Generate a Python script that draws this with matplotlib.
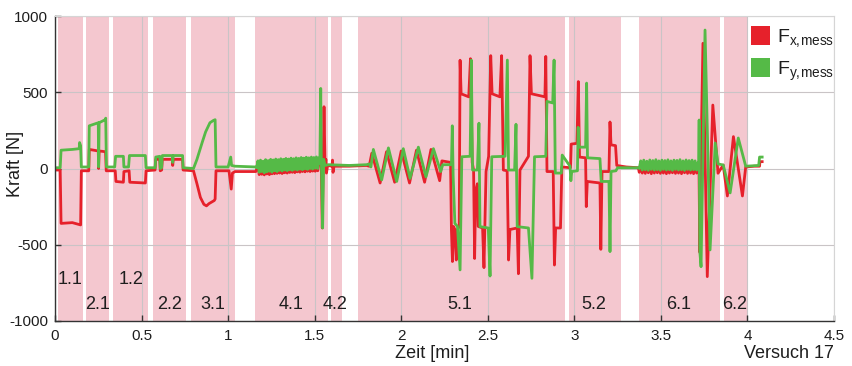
import numpy as np
import matplotlib
matplotlib.use('Agg')
import matplotlib.pyplot as plt
from matplotlib.patches import Patch

plt.rcParams['font.family'] = ['Liberation Sans', 'DejaVu Sans']
plt.rcParams['mathtext.fontset'] = 'custom'
plt.rcParams['mathtext.rm'] = 'Liberation Sans'
plt.rcParams['axes.unicode_minus'] = False

# ---------------- phase spans (min) ----------------
span_start = [0.017, 0.177, 0.335, 0.566, 0.786, 1.155, 1.593, 1.749, 2.969, 3.376, 3.865]
span_end = [0.162, 0.312, 0.537, 0.757, 1.040, 1.577, 1.656, 2.948, 3.268, 3.843, 4.005]
phase_labels = ['1.1', '2.1', '1.2', '2.2', '3.1', '4.1', '4.2', '5.1', '5.2', '6.1', '6.2']
label_t = [0.087, 0.243, 0.439, 0.664, 0.913, 1.363, 1.618, 2.340, 3.114, 3.605, 3.928]
label_y = [-725, -895, -725, -895, -895, -895, -895, -895, -895, -895, -895]

# ---------------- F_x,mess (red) ----------------
fx_t1 = [0, 0.03, 0.035, 0.10, 0.148, 0.152, 0.195, 0.198, 0.25, 0.252, 0.255, 0.292, 0.296, 0.348, 0.352,
         0.395, 0.398, 0.428, 0.432, 0.522, 0.526, 0.578, 0.582, 0.605, 0.608, 0.616, 0.62, 0.678, 0.68, 0.683,
         0.737, 0.74, 0.80, 0.82, 0.84, 0.86, 0.875, 0.89, 0.92, 0.925, 0.93, 1.005, 1.018, 1.025, 1.04, 1.16]
fx_v1 = [-10, -10, -360, -355, -370, -15, -15, 125, 115, 0, 115, 110, -15, -15, -85,
         -90, -20, -15, -90, -95, -15, -10, 60, 60, -15, -10, 60, 60, 20, 60,
         60, -10, -15, -100, -190, -235, -245, -230, -210, -200, -15, -15, -135, -30, -20, -20]
fx_osc41 = [-5, 30, -40, 35, -38, 30, -42, 38, -36, 32, -40, 36, -35, 38, -34, 35, -32, 40, -30, 38,
            -33, 42, -28, 40, -30, 44, -26, 40, -25, 45, -27, 42, -22, 46, -24, 44, -20, 48, -22, 45,
            -18, 50, -20, 46, -17, 50, -18, 48, -15, 45]
fx_t2 = [1.53, 1.538, 1.544, 1.549, 1.554, 1.56, 1.565, 1.568, 1.575, 1.60, 1.603, 1.606, 1.612, 1.70, 1.80]
fx_v2 = [25, 30, -390, 0, 405, 20, 60, -30, 20, 15, 55, -25, 15, 15, 20]
fx_t3 = [1.815, 1.83, 1.878, 1.915, 1.962, 2.0, 2.048, 2.088, 2.135, 2.172, 2.222, 2.235, 2.285]
fx_v3 = [15, 100, -95, 110, -90, 115, -95, 120, -90, 125, -80, 50, 40]
fx_t4 = [2.29, 2.296, 2.302, 2.31, 2.318, 2.325, 2.335, 2.34, 2.346, 2.39, 2.40, 2.41, 2.418, 2.424, 2.43,
         2.44, 2.445, 2.47, 2.478, 2.49, 2.505, 2.517, 2.525, 2.57, 2.58, 2.59, 2.612, 2.62, 2.628, 2.67,
         2.677, 2.686, 2.735, 2.744, 2.752, 2.83, 2.835, 2.842, 2.878, 2.885, 2.892, 2.92, 2.928]
fx_v4 = [-400, -610, -380, -400, -600, -400, -380, 710, 490, 470, 720, 40, -10, -590, -150,
         -100, -380, -390, -650, -20, 80, 740, 490, 470, 740, -10, -15, -600, -400, -390,
         -690, -10, 80, 740, 490, 470, 735, -20, -20, -633, -390, -390, 10]
fx_t5 = [2.978, 2.982, 3.015, 3.023, 3.03, 3.065, 3.069, 3.075, 3.148, 3.153, 3.16, 3.2, 3.206, 3.212,
         3.238, 3.245, 3.30, 3.37]
fx_v5 = [5, 160, 165, 570, 75, 70, -250, -85, -95, -530, -20, -20, 305, 155, 150, 20, 10, 5]
fx_osc61 = [-25, 30, -30, 28, -32, 32, -28, 30, -34, 28, -30, 32, -28, 34, -32, 30, -30, 28, -34, 32,
            -30, 30, -28, 34, -32, 30, -30, 28, -34, 32, -28, 30, -32, 34, -30, 28, -34, 30, -30, 25]
fx_t6 = [3.72, 3.725, 3.732, 3.743, 3.768, 3.80, 3.83, 3.86, 3.884, 3.919, 3.971, 3.99, 4.04, 4.07, 4.072, 4.085]
fx_v6 = [10, -550, 100, 821, -709, 416, -31, 23, -180, 209, -180, 10, 15, 15, 45, 45]

# ---------------- F_y,mess (green) ----------------
fy_t1 = [0, 0.03, 0.035, 0.10, 0.14, 0.142, 0.148, 0.152, 0.195, 0.198, 0.25, 0.252, 0.255, 0.29, 0.293,
         0.297, 0.345, 0.35, 0.395, 0.398, 0.425, 0.43, 0.522, 0.526, 0.578, 0.582, 0.605, 0.608, 0.616, 0.62,
         0.678, 0.68, 0.683, 0.737, 0.74, 0.80, 0.82, 0.85, 0.87, 0.895, 0.915, 0.925, 0.93, 1.0, 1.015,
         1.02, 1.04, 1.16]
fy_v1 = [5, 5, 120, 125, 130, 170, 150, 10, 10, 280, 300, 10, 300, 320, 330,
         10, 10, 80, 80, 10, 10, 85, 85, 5, 5, 75, 80, 0, 5, 85,
         85, 40, 85, 85, 5, 0, 60, 170, 240, 300, 315, 320, 10, 10, 75,
         20, 15, 10]
fy_osc41 = [5, 50, -25, 55, -20, 48, -28, 58, -22, 52, -18, 60, -24, 56, -15, 62, -20, 58, -12, 64,
            -16, 60, -10, 66, -14, 62, -8, 68, -12, 64, -6, 70, -10, 66, -4, 72, -8, 68, -2, 74,
            -6, 70, 0, 75, -4, 72, 2, 76, 0, 70]
fy_t2 = [1.53, 1.535, 1.538, 1.546, 1.552, 1.56, 1.58, 1.70, 1.80]
fy_v2 = [35, 525, 100, -390, 60, 20, 25, 20, 25]
fy_t3 = [1.815, 1.825, 1.839, 1.887, 1.926, 1.974, 2.012, 2.051, 2.099, 2.143, 2.186, 2.228, 2.24, 2.29]
fy_v3 = [30, 10, 125, -75, 135, -85, 130, -65, 140, -55, 130, -20, 25, 25]
fy_t4 = [2.295, 2.30, 2.31, 2.325, 2.34, 2.35, 2.398, 2.405, 2.412, 2.44, 2.449, 2.455, 2.503, 2.513, 2.523,
         2.60, 2.613, 2.62, 2.655, 2.663, 2.67, 2.735, 2.755, 2.77, 2.835, 2.842, 2.875, 2.883, 2.89, 2.925,
         2.93, 2.975]
fy_v4 = [280, -50, -360, -380, -665, 77, 80, 711, -10, -10, 297, -381, -390, -705, 77,
         80, 711, -10, -10, 290, -381, -390, -720, 77, 80, 440, 430, 711, -30, -30,
         88, 15]
fy_t5 = [2.98, 2.985, 3.018, 3.022, 3.027, 3.065, 3.071, 3.076, 3.148, 3.155, 3.2, 3.206, 3.212, 3.24, 3.25, 3.37]
fy_v5 = [-80, -20, -15, 270, 140, 140, 560, 70, 65, -85, -85, -545, -20, -15, 5, 5]
fy_osc61 = [0, 50, -10, 55, -8, 48, -12, 56, -6, 52, -10, 58, -8, 50, -12, 55, -6, 52, -10, 57,
            -8, 50, -12, 55, -6, 53, -10, 58, -8, 50, -12, 56, -6, 52, -10, 55, -8, 50, -10, 40]
fy_t6 = [3.718, 3.721, 3.725, 3.732, 3.755, 3.784, 3.814, 3.83, 3.86, 3.90, 3.947, 3.99, 4.065, 4.07, 4.085]
fy_v6 = [20, 318, -546, -644, 908, -534, 167, 30, 23, -160, 200, 15, 20, 75, 75]

osc41_range = (1.165, 1.525)
osc61_range = (3.375, 3.715)


def assemble(t1, v1, osc41, t2, v2, t3, v3, t4, v4, t5, v5, osc61, t6, v6):
    ta = np.linspace(osc41_range[0], osc41_range[1], len(osc41))
    tb = np.linspace(osc61_range[0], osc61_range[1], len(osc61))
    t = np.concatenate([t1, ta, t2, t3, t4, t5, tb, t6])
    v = np.concatenate([v1, osc41, v2, v3, v4, v5, osc61, v6])
    return t, v


tx, vx = assemble(fx_t1, fx_v1, fx_osc41, fx_t2, fx_v2, fx_t3, fx_v3, fx_t4, fx_v4, fx_t5, fx_v5,
                  fx_osc61, fx_t6, fx_v6)
ty, vy = assemble(fy_t1, fy_v1, fy_osc41, fy_t2, fy_v2, fy_t3, fy_v3, fy_t4, fy_v4, fy_t5, fy_v5,
                  fy_osc61, fy_t6, fy_v6)

red = '#e6212b'
green = '#55ba47'
pink = '#f4c7cf'
txtc = '#1e1e1e'

fig = plt.figure(figsize=(8.52, 3.66), dpi=100)
ax = fig.add_axes([55 / 852, 1 - 321 / 366, (834 - 55) / 852, (321 - 16) / 366])

for s, e in zip(span_start, span_end):
    ax.axvspan(s, e, color=pink, lw=0, zorder=0.1)

ax.plot(tx, vx, color=red, lw=2.0, zorder=2)
ax.plot(ty, vy, color=green, lw=2.0, zorder=2.1)

for lab, t, y in zip(phase_labels, label_t, label_y):
    ax.text(t, y, lab, ha='center', va='center', fontsize=13, color=txtc, zorder=3)

ax.set_xlim(0, 4.5)
ax.set_ylim(-1000, 1000)
ax.set_xticks([0, 0.5, 1, 1.5, 2, 2.5, 3, 3.5, 4, 4.5])
ax.set_xticklabels(['0', '0.5', '1', '1.5', '2', '2.5', '3', '3.5', '4', '4.5'])
ax.set_yticks([-1000, -500, 0, 500, 1000])
ax.grid(True, color='#c9c4c6', lw=0.8, zorder=0.5)
ax.set_axisbelow(True)
ax.tick_params(direction='in', length=4, width=1, color='#333333', labelsize=11, labelcolor=txtc, pad=5)
ax.tick_params(axis='x', pad=6)
for side in ['top', 'right']:
    ax.spines[side].set_color('#d5d5d5')
    ax.spines[side].set_linewidth(0.8)
for side in ['left', 'bottom']:
    ax.spines[side].set_color('#333333')
    ax.spines[side].set_linewidth(1.0)

handles = [Patch(facecolor=red, edgecolor='none'), Patch(facecolor=green, edgecolor='none')]
labels = [r'F$_{\mathregular{x,\!mess}}$', r'F$_{\mathregular{y,\!mess}}$']
leg = ax.legend(handles, labels, loc='upper right', frameon=False, fontsize=14,
                handlelength=1.0, handleheight=1.1, handletextpad=0.35, labelspacing=0.45,
                borderaxespad=0.0, borderpad=0.3, bbox_to_anchor=(1.008, 0.985))
for t in leg.get_texts():
    t.set_color(txtc)

fig.text(16 / 852, 1 - 164 / 366, 'Kraft [N]', rotation=90, ha='center', va='center', fontsize=13, color=txtc)
fig.text(432 / 852, 1 - 353 / 366, 'Zeit [min]', ha='center', va='center', fontsize=13, color=txtc)
fig.text(834 / 852, 1 - 353 / 366, 'Versuch 17', ha='right', va='center', fontsize=13, color=txtc)

fig.savefig('out.png', dpi=100)
